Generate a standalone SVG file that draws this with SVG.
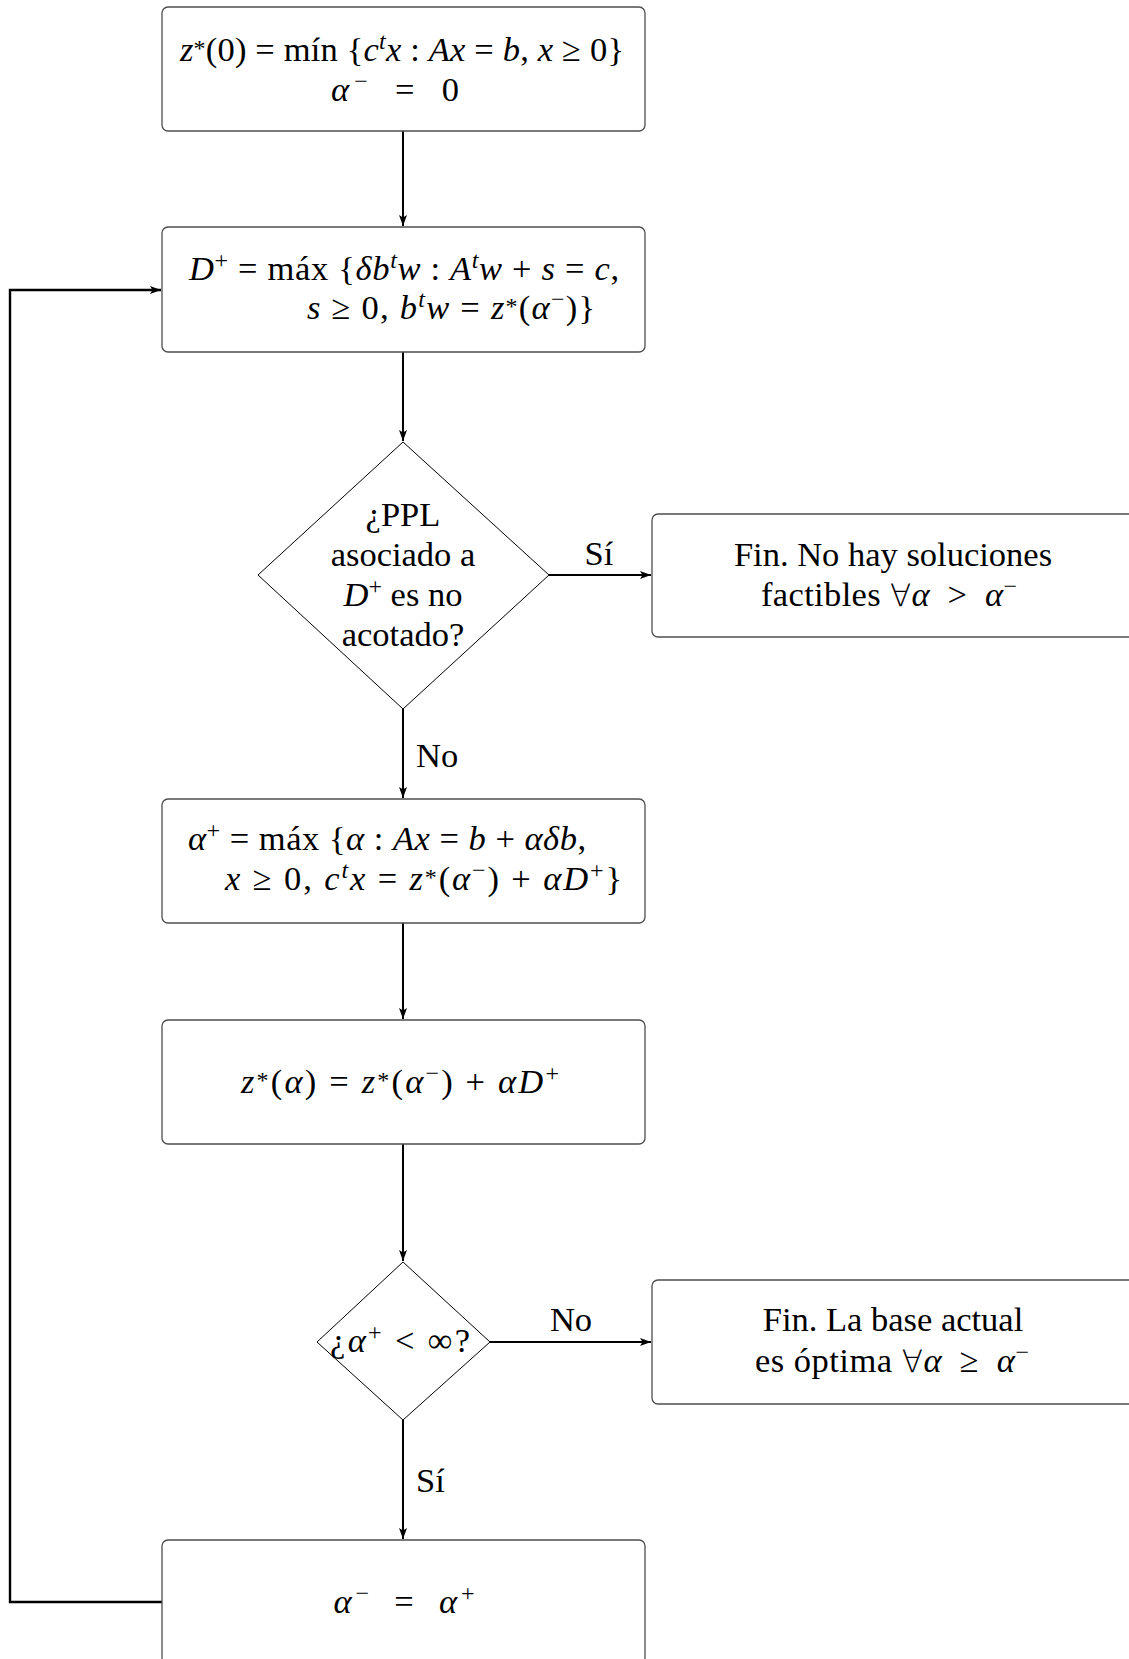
<svg xmlns="http://www.w3.org/2000/svg" width="1129" height="1659" viewBox="0 0 1129 1659">
<style>
text{font-family:"Liberation Serif","DejaVu Serif",serif;font-size:34.5px;fill:#000}
.i{font-style:italic}
.s{font-size:24px}
.fa{font-family:"DejaVu Sans",sans-serif;font-weight:200;font-size:31px}
.box{fill:#fff;stroke:#4d4d4d;stroke-width:1.3}
.dia{fill:#fff;stroke:#000;stroke-width:1}
.edge{fill:none;stroke:#000;stroke-width:2;marker-end:url(#ah)}
.loop{stroke-width:2.4}
.mid{text-anchor:middle}
</style>
<defs>
<marker id="ah" markerUnits="userSpaceOnUse" markerWidth="12" markerHeight="10" viewBox="0 0 12 10" refX="11" refY="5" orient="auto">
<path d="M0,1 L11,5 L0,9 L2.5,5 Z" fill="#000"/>
</marker>
</defs>
<rect width="1129" height="1659" fill="#fff"/>
<g id="connectors">
<path class="edge" d="M403,131 V226"/>
<path class="edge" d="M403,352 V441"/>
<path class="edge" d="M403,709 V798"/>
<path class="edge" d="M403,923 V1019"/>
<path class="edge" d="M403,1144 V1261"/>
<path class="edge" d="M403,1420 V1539"/>
<path class="edge" d="M549,575 H651"/>
<path class="edge" d="M490,1342 H651"/>
<path class="edge loop" d="M162,1602 H10 V290 H161"/>
<text x="599" y="565" class="mid">Sí</text>
<text x="416" y="767">No</text>
<text x="571" y="1331" class="mid">No</text>
<text x="416" y="1492">Sí</text>
</g>
<g id="n1">
<rect class="box" x="162" y="7" width="483" height="124" rx="6"/>
<text x="402" y="61" class="mid" textLength="444" lengthAdjust="spacing"><tspan class="i">z</tspan><tspan class="s" dy="-5">*</tspan><tspan dy="5">(0) = mín {</tspan><tspan class="i">c</tspan><tspan class="s i" dy="-12">t</tspan><tspan class="i" dy="12">x</tspan> : <tspan class="i">Ax</tspan> = <tspan class="i">b</tspan>, <tspan class="i">x</tspan> ≥ 0}</text>
<text x="395" y="101" class="mid" textLength="128" lengthAdjust="spacing"><tspan class="i">α</tspan><tspan class="s" dy="-12">−</tspan><tspan dy="12">&#8194;=&#8194;0</tspan></text>
</g>
<g id="n2">
<rect class="box" x="162" y="227" width="483" height="125" rx="6"/>
<text x="189" y="280" textLength="430" lengthAdjust="spacing"><tspan class="i">D</tspan><tspan class="s" dy="-12">+</tspan><tspan dy="12"> = máx {</tspan><tspan class="i">δb</tspan><tspan class="s i" dy="-12">t</tspan><tspan class="i" dy="12">w</tspan> : <tspan class="i">A</tspan><tspan class="s i" dy="-12">t</tspan><tspan class="i" dy="12">w</tspan> + <tspan class="i">s</tspan> = <tspan class="i">c</tspan>,</text>
<text x="307" y="319" textLength="288" lengthAdjust="spacing"><tspan class="i">s</tspan> ≥ 0, <tspan class="i">b</tspan><tspan class="s i" dy="-12">t</tspan><tspan class="i" dy="12">w</tspan> = <tspan class="i">z</tspan><tspan class="s" dy="-5">*</tspan><tspan dy="5">(</tspan><tspan class="i">α</tspan><tspan class="s" dy="-12">−</tspan><tspan dy="12">)}</tspan></text>
</g>
<g id="n3">
<polygon class="dia" points="403,442 549,575 403,709 258,575"/>
<text x="403" y="526" class="mid">¿PPL</text>
<text x="403" y="566" class="mid">asociado a</text>
<text x="403" y="606" class="mid"><tspan class="i">D</tspan><tspan class="s" dy="-12">+</tspan><tspan dy="12"> es no</tspan></text>
<text x="403" y="646" class="mid">acotado?</text>
</g>
<g id="n4">
<rect class="box" x="652" y="514" width="484" height="123" rx="6"/>
<text x="893" y="566" class="mid">Fin. No hay soluciones</text>
<text x="889" y="606" class="mid" textLength="256" lengthAdjust="spacing">factibles <tspan class="fa">∀</tspan><tspan class="i">α</tspan>&#8194;&gt;&#8194;<tspan class="i">α</tspan><tspan class="s" dy="-12">−</tspan></text>
</g>
<g id="n5">
<rect class="box" x="162" y="799" width="483" height="124" rx="6"/>
<text x="188" y="850" textLength="398" lengthAdjust="spacing"><tspan class="i">α</tspan><tspan class="s" dy="-12">+</tspan><tspan dy="12"> = máx {</tspan><tspan class="i">α</tspan> : <tspan class="i">Ax</tspan> = <tspan class="i">b</tspan> + <tspan class="i">αδb</tspan>,</text>
<text x="225" y="890" textLength="397" lengthAdjust="spacing"><tspan class="i">x</tspan> ≥ 0, <tspan class="i">c</tspan><tspan class="s i" dy="-12">t</tspan><tspan class="i" dy="12">x</tspan> = <tspan class="i">z</tspan><tspan class="s" dy="-5">*</tspan><tspan dy="5">(</tspan><tspan class="i">α</tspan><tspan class="s" dy="-12">−</tspan><tspan dy="12">) + </tspan><tspan class="i">αD</tspan><tspan class="s" dy="-12">+</tspan><tspan dy="12">}</tspan></text>
</g>
<g id="n6">
<rect class="box" x="162" y="1020" width="483" height="124" rx="6"/>
<text x="400" y="1093" class="mid" textLength="318" lengthAdjust="spacing"><tspan class="i">z</tspan><tspan class="s" dy="-5">*</tspan><tspan dy="5">(</tspan><tspan class="i">α</tspan>) = <tspan class="i">z</tspan><tspan class="s" dy="-5">*</tspan><tspan dy="5">(</tspan><tspan class="i">α</tspan><tspan class="s" dy="-12">−</tspan><tspan dy="12">) + </tspan><tspan class="i">αD</tspan><tspan class="s" dy="-12">+</tspan></text>
</g>
<g id="n7">
<polygon class="dia" points="403,1262 490,1342 403,1420 317,1342"/>
<text x="400" y="1352" class="mid" textLength="140" lengthAdjust="spacing">¿<tspan class="i">α</tspan><tspan class="s" dy="-12">+</tspan><tspan dy="12"> &lt; ∞?</tspan></text>
</g>
<g id="n8">
<rect class="box" x="652" y="1280" width="484" height="124" rx="6"/>
<text x="893" y="1331" class="mid">Fin. La base actual</text>
<text x="892" y="1372" class="mid" textLength="274" lengthAdjust="spacing">es óptima <tspan class="fa">∀</tspan><tspan class="i">α</tspan>&#8194;≥&#8194;<tspan class="i">α</tspan><tspan class="s" dy="-12">−</tspan></text>
</g>
<g id="n9">
<rect class="box" x="162" y="1540" width="483" height="124" rx="6"/>
<text x="404" y="1613" class="mid" textLength="141" lengthAdjust="spacing"><tspan class="i">α</tspan><tspan class="s" dy="-12">−</tspan><tspan dy="12">&#8194;=&#8194;</tspan><tspan class="i">α</tspan><tspan class="s" dy="-12">+</tspan></text>
</g>
</svg>
